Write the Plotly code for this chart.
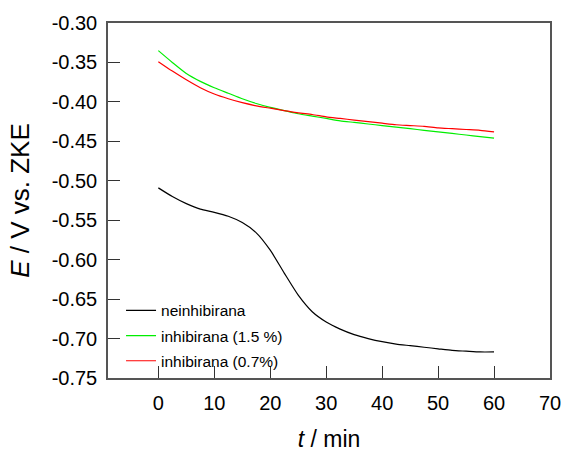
import plotly.graph_objects as go

t_min = [0, 2.5, 5, 7.5, 10, 12.5, 15, 17.5, 20, 22.5, 25, 27.5, 30, 32.5, 35, 37.5, 40,
         42.5, 45, 47.5, 50, 52.5, 55, 57.5, 60]

e_neinhibirana = [-0.509, -0.520, -0.529, -0.536, -0.540, -0.545, -0.553, -0.566, -0.588,
                  -0.617, -0.645, -0.666, -0.679, -0.688, -0.695, -0.700, -0.704, -0.707,
                  -0.709, -0.711, -0.713, -0.715, -0.716, -0.717, -0.717]

e_inhib_15 = [-0.335, -0.350, -0.364, -0.374, -0.382, -0.389, -0.396, -0.402, -0.407,
              -0.411, -0.415, -0.418, -0.421, -0.424, -0.426, -0.428, -0.430, -0.432,
              -0.434, -0.436, -0.438, -0.440, -0.442, -0.444, -0.446]

e_inhib_07 = [-0.349, -0.361, -0.372, -0.382, -0.390, -0.396, -0.401, -0.405, -0.408,
              -0.411, -0.414, -0.416, -0.419, -0.421, -0.423, -0.425, -0.427, -0.429,
              -0.430, -0.431, -0.433, -0.434, -0.435, -0.436, -0.438]

series_names = ["neinhibirana", "inhibirana (1.5 %)", "inhibirana (0.7%)"]
series_colors = ["#000000", "#00ee00", "#ff0000"]

x_ticks = [0, 10, 20, 30, 40, 50, 60, 70]
y_ticks = [-0.30, -0.35, -0.40, -0.45, -0.50, -0.55, -0.60, -0.65, -0.70, -0.75]

fig = go.Figure()
for i, (name, ys, col) in enumerate(zip(series_names, [e_neinhibirana, e_inhib_15, e_inhib_07], series_colors)):
    fig.add_trace(go.Scatter(x=t_min, y=ys, mode="lines", name=name, legendgroup=f"g{i}",
                             line=dict(color=col, width=1.2, shape="spline", smoothing=0.6)))

axis_common = dict(showgrid=False, zeroline=False, showline=True, mirror=True,
                   linecolor="#555555", linewidth=1.5, ticks="inside", ticklen=12,
                   tickcolor="#333333", tickwidth=1.2, automargin=False,
                   tickfont=dict(family="Liberation Sans, Arial", size=20, color="#000"))

fig.update_layout(
    width=563, height=452,
    margin=dict(l=108, r=13, t=23, b=74),
    paper_bgcolor="white", plot_bgcolor="white",
    font=dict(family="Liberation Sans, Arial", color="#000"),
    showlegend=True,
    legend=dict(x=0.0295, y=0.237, xanchor="left", yanchor="top",
                bgcolor="rgba(0,0,0,0)", font=dict(size=15.5), tracegroupgap=2),
    xaxis=dict(range=[-9, 70], tickvals=x_ticks, ticktext=[str(v) for v in x_ticks],
               ticklabelstandoff=6,
               title=dict(text="<i>t</i> / min", font=dict(size=23), standoff=24),
               **axis_common),
    yaxis=dict(range=[-0.75, -0.30], tickvals=y_ticks, ticktext=[f"{v:.2f}" for v in y_ticks],
               ticklabelstandoff=5,
               title=dict(text="<i>E</i> / V vs. ZKE", font=dict(size=26), standoff=15),
               **axis_common),
)

fig.write_html("out.html", config={"displayModeBar": False},
               post_script="document.body.style.margin='0';document.body.style.overflow='hidden';")
